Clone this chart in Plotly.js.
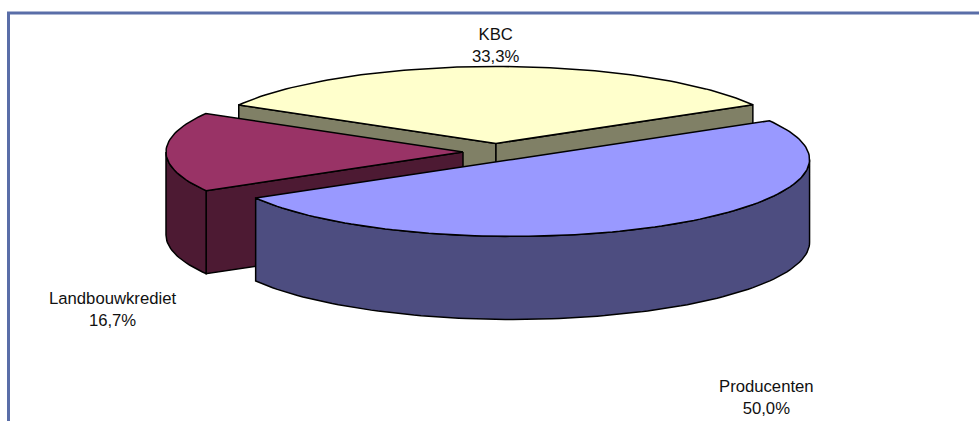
<!DOCTYPE html>
<html>
<head>
<meta charset="utf-8">
<script src="https://cdn.plot.ly/plotly-3.0.1.min.js"></script>
<style>html,body{margin:0;padding:0;background:#fff;overflow:hidden}#chart{width:979px;height:421px}</style>
</head>
<body>
<div id="chart"></div>
<script>
// Data
const categories = ["KBC", "Landbouwkrediet", "Producenten"];
const shares = [33.3, 16.7, 50.0];

// Styling and projection
const topColors = ["#FFFFCC", "#993366", "#9999FF"];
const sideColors = ["#808066", "#4D1A33", "#4D4D80"];
const labelX = [495, 112, 766.5];
const labelY = [45, 309.5, 397.5];
const sweepOrder = [0, 2, 1];   // clockwise order of slices around the pie
const startAngle = -60, cx = 496, cy = 152, rx = 297, ry = 77, depth = 83, explode = 33;
const edge = {color: "#000", width: 1.5};

const rad = d => d * Math.PI / 180;
const total = shares.reduce((a, b) => a + b, 0);
const slices = [];
let a = startAngle;
sweepOrder.forEach(i => {
  const sweep = shares[i] / total * 360;
  slices[i] = {from: a, to: a + sweep, mid: a + sweep / 2};
  a += sweep;
});

function pt(s, ang, dy) {
  const ox = cx + explode * Math.sin(rad(s.mid));
  const oy = cy - explode * ry / rx * Math.cos(rad(s.mid));
  return [ox + rx * Math.sin(rad(ang)), oy - ry * Math.cos(rad(ang)) + dy];
}
function apex(s, dy) {
  return [cx + explode * Math.sin(rad(s.mid)), cy - explode * ry / rx * Math.cos(rad(s.mid)) + dy];
}
function arc(s, from, to, dy) {
  const out = [], n = Math.max(2, Math.ceil(Math.abs(to - from) / 1.5));
  for (let k = 0; k <= n; k++) out.push(pt(s, from + (to - from) * k / n, dy));
  return out;
}
function poly(points, fill) {
  const closed = points.concat([points[0]]);
  return {
    type: "scatter", mode: "lines", x: closed.map(p => p[0]), y: closed.map(p => p[1]),
    fill: "toself", fillcolor: fill, line: edge, hoverinfo: "skip", showlegend: false
  };
}

const traces = [];
categories.forEach((name, i) => {
  const s = slices[i];
  // cut faces turned towards the viewer
  if (-Math.cos(rad(s.from - 90)) > 0)
    traces.push(poly([apex(s, 0), pt(s, s.from, 0), pt(s, s.from, depth), apex(s, depth)], sideColors[i]));
  if (-Math.cos(rad(s.to + 90)) > 0)
    traces.push(poly([apex(s, 0), pt(s, s.to, 0), pt(s, s.to, depth), apex(s, depth)], sideColors[i]));
  // outer wall: the part of the rim on the viewer's side
  for (const shift of [0, 360]) {
    const lo = Math.max(s.from, 90 - shift), hi = Math.min(s.to, 270 - shift);
    if (hi > lo)
      traces.push(poly(arc(s, lo, hi, 0).concat(arc(s, hi, lo, depth)), sideColors[i]));
  }
  // top face
  traces.push(poly([apex(s, 0)].concat(arc(s, s.from, s.to, 0)), topColors[i]));
});

const annotations = categories.map((name, i) => ({
  x: labelX[i], y: labelY[i], xref: "x", yref: "y", xanchor: "center", yanchor: "middle",
  showarrow: false, align: "center",
  text: name + "<br>" + shares[i].toFixed(1).replace(".", ",") + "%",
  font: {family: "Liberation Sans, Arial, sans-serif", size: 16.7, color: "#111"}
}));

const frame = {
  type: "path", xref: "x", yref: "y", path: "M 8.5 421 L 8.5 13 L 979 13",
  line: {color: "#5A6EA8", width: 3}, layer: "below"
};

Plotly.newPlot("chart", traces, {
  width: 979, height: 421, margin: {l: 0, r: 0, t: 0, b: 0},
  paper_bgcolor: "#fff", plot_bgcolor: "#fff", showlegend: false,
  xaxis: {range: [0, 979], visible: false, fixedrange: true},
  yaxis: {range: [421, 0], visible: false, fixedrange: true},
  shapes: [frame], annotations: annotations
}, {displayModeBar: false, staticPlot: true});
</script>
</body>
</html>
